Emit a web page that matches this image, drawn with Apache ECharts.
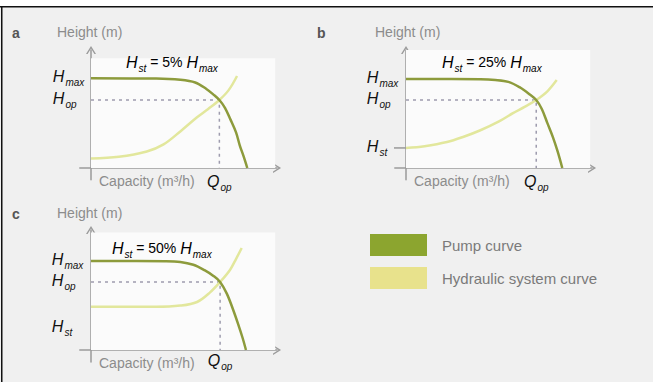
<!DOCTYPE html>
<html><head><meta charset="utf-8">
<script src="https://cdn.jsdelivr.net/npm/echarts@6/dist/echarts.min.js"></script>
<style>html,body{margin:0;padding:0;background:#fff}#c{width:653px;height:382px}</style>
</head><body><div id="c"></div><script>
// ---- data (x: capacity 0..100 to arrow tip, y: height 0..100 to arrow tip) ----
const panelLetters = ['a', 'b', 'c'];
const stShares = ['5%', '25%', '50%'];
const hmax = [76, 75.4, 74.2];
const hop = [57.6, 57.6, 56.7];
const qop = [69, 70, 69.4];
const hst = [null, 17, 36];
const hstLabelAt = [null, 17, 18];
const pumpA = [[0,76],[35,75.8],[48,74.8],[56,72.5],[62,67],[66,62],[69,57.6],[72,51],[75,41],[78,30],[80,19],[82,10],[84,0]];
const pumpB = [[0,75.4],[40,75.2],[48,74.6],[55,73],[61,68.5],[66,63],[70,57.6],[73,50],[76,38],[79,26],[81.5,14],[84,0]];
const pumpC = [[0,74.2],[40,74],[48,73.4],[55,71],[61,66.5],[66,61.5],[69.4,56.7],[73,47],[76.3,34],[79,22],[81.5,10],[83.3,0]];
const systemA = [[0,8],[15,9.5],[30,14],[39,20],[48,31],[57,43],[63,50],[69,57.6],[74,66],[78.5,78]];
const systemB = [[0,17],[10,18.5],[22,22],[31,26.5],[40,32],[50,39.5],[57.5,46.5],[64,52],[70,57.6],[76,65],[81,74.5]];
const systemC = [[0,36],[35,36],[48,37],[57,40],[64,48],[69.4,56.7],[74.7,66.7],[78,76],[81,85]];
const pumps = [pumpA, pumpB, pumpC];
const systems = [systemA, systemB, systemC];
const seriesNames = ['Pump curve', 'Hydraulic system curve'];
const yTitle = 'Height (m)';
const xTitle = 'Capacity (m³/h)';

// ---- layout ----
const FONT = 'Liberation Sans, Arial, Helvetica, sans-serif';
const grids = [
  {left: 79.84, top: 50, width: 197.2, height: 129.8},
  {left: 394.84, top: 50, width: 197.2, height: 129.8},
  {left: 79.84, top: 230, width: 197.2, height: 132}
];
const xLabelMargin = [-6, -6, -10];
const yLabelMargin = [27, 28, 28];
const whiteTop = [93, 100, 98];
const arrow = 'path://M0,8 L5,0 L10,8 L8.4,8 L5,2.6 L1.6,8 Z';
const rich = {
  H: {fontSize: 16, fontStyle: 'italic', color: '#111', verticalAlign: 'top', fontFamily: FONT},
  s: {fontSize: 10, fontStyle: 'italic', color: '#111', verticalAlign: 'top', padding: [9, 0, 0, 1], fontFamily: FONT},
  g: {fontSize: 14, color: '#8c8c8c', verticalAlign: 'top', padding: [1, 0, 0, 0], fontFamily: FONT}
};
const axisColor = '#9a9a9a';

const xAxes = [], yAxes = [], series = [], graphics = [];
for (let i = 0; i < 3; i++) {
  xAxes.push({
    gridIndex: i, type: 'value', min: -6, max: 100,
    axisLine: {onZero: true, symbol: ['none', arrow], symbolSize: [11, 8], lineStyle: {color: axisColor, width: 1.5}},
    axisTick: {show: false}, splitLine: {show: false},
    axisLabel: {customValues: [qop[i]], formatter: () => '{H|Q}{s|op}', rich: rich, margin: xLabelMargin[i]}
  });
  const yVals = [hop[i], hmax[i]];
  const yTxt = ['op', 'max'];
  if (hstLabelAt[i] !== null) { yVals.unshift(hstLabelAt[i]); yTxt.unshift('st'); }
  yAxes.push({
    gridIndex: i, type: 'value', min: -10, max: 100,
    axisLine: {onZero: true, symbol: ['none', arrow], symbolSize: [11, 8], lineStyle: {color: axisColor, width: 1.5}},
    axisTick: {show: false}, splitLine: {show: false},
    axisLabel: {
      customValues: yVals,
      formatter: (v) => { const k = yVals.findIndex(u => Math.abs(u - v) < 1e-6); return '{H|H}{s|' + (k >= 0 ? yTxt[k] : '') + '}'; },
      rich: rich, align: 'left', margin: yLabelMargin[i]
    }
  });
  series.push({
    type: 'line', name: seriesNames[1], xAxisIndex: i, yAxisIndex: i, data: systems[i],
    smooth: 0.35, showSymbol: false, silent: true, z: 3,
    lineStyle: {color: '#e2e79c', width: 2.5}, itemStyle: {color: '#e8e28c'},
    markArea: {silent: true, itemStyle: {color: '#fbfbfb'}, data: [[{coord: [0, 0]}, {coord: [99, whiteTop[i]]}]]}
  });
  series.push({
    type: 'line', name: seriesNames[0], xAxisIndex: i, yAxisIndex: i, data: pumps[i],
    smooth: 0.35, showSymbol: false, silent: true, z: 4,
    lineStyle: {color: '#8d9b3c', width: 2.5}, itemStyle: {color: '#8ca52f'}
  });
  series.push({
    type: 'line', xAxisIndex: i, yAxisIndex: i, data: [[0, hop[i]], [qop[i], hop[i]], [qop[i], 0]],
    showSymbol: false, silent: true, z: 2,
    lineStyle: {color: '#9e9cae', width: 1.5, type: [3, 4]}
  });
  if (i === 1) {
    series.push({
      type: 'line', xAxisIndex: i, yAxisIndex: i, data: [[-8.6, hst[i]], [0, hst[i]]],
      showSymbol: false, silent: true, clip: false, z: 2, lineStyle: {color: axisColor, width: 1.5}
    });
    series.push({
      type: 'line', xAxisIndex: i, yAxisIndex: i, data: [[-7.6, hst[i]], [-7.6, 0]],
      showSymbol: false, silent: true, clip: false, z: 2, lineStyle: {color: axisColor, width: 1.2, type: [2, 2]}
    });
  }
}

// panel texts
const letterPos = [[12, 26], [317, 26], [12, 207]];
const yTitlePos = [[57, 25], [375, 25], [57, 206]];
const xTitlePos = [[99, 174], [414, 174], [99, 356]];
const stTitlePos = [[126, 54], [442, 54], [112, 240]];
for (let i = 0; i < 3; i++) {
  graphics.push({type: 'text', left: letterPos[i][0], top: letterPos[i][1], style: {text: panelLetters[i], fill: '#555', font: 'bold 14px ' + FONT}});
  graphics.push({type: 'text', left: yTitlePos[i][0], top: yTitlePos[i][1], style: {text: yTitle, fill: '#8c8c8c', font: '14px ' + FONT}});
  graphics.push({type: 'text', left: xTitlePos[i][0], top: xTitlePos[i][1], style: {text: xTitle, fill: '#8c8c8c', font: '14px ' + FONT}});
  graphics.push({type: 'text', left: stTitlePos[i][0], top: stTitlePos[i][1], z: 10,
    style: {text: '{H|H}{s|st}{g| = ' + stShares[i] + ' }{H|H}{s|max}', rich: rich}});
}
// frame
graphics.push({type: 'rect', left: 0, top: 0, shape: {width: 653, height: 6}, style: {fill: '#fff'}, z: -1});
graphics.push({type: 'rect', left: 0, top: 6, shape: {width: 653, height: 1.6}, style: {fill: '#111'}});
graphics.push({type: 'rect', left: 1, top: 6, shape: {width: 1.5, height: 376}, style: {fill: '#111'}});

const chart = echarts.init(document.getElementById('c'), null, {renderer: 'svg'});
chart.setOption({
  backgroundColor: '#f0f0f0',
  animation: false,
  textStyle: {fontFamily: FONT},
  grid: grids,
  xAxis: xAxes,
  yAxis: yAxes,
  legend: {
    left: 365, top: 229, orient: 'vertical', icon: 'rect', itemWidth: 57, itemHeight: 22, itemGap: 11,
    selectedMode: false,
    textStyle: {fontSize: 15, color: '#7a7a7a', padding: [0, 0, 0, 10], fontFamily: FONT},
    data: [{name: seriesNames[0], itemStyle: {color: '#8ca52f'}}, {name: seriesNames[1], itemStyle: {color: '#e8e28c'}}]
  },
  series: series,
  graphic: graphics
});
</script></body></html>
